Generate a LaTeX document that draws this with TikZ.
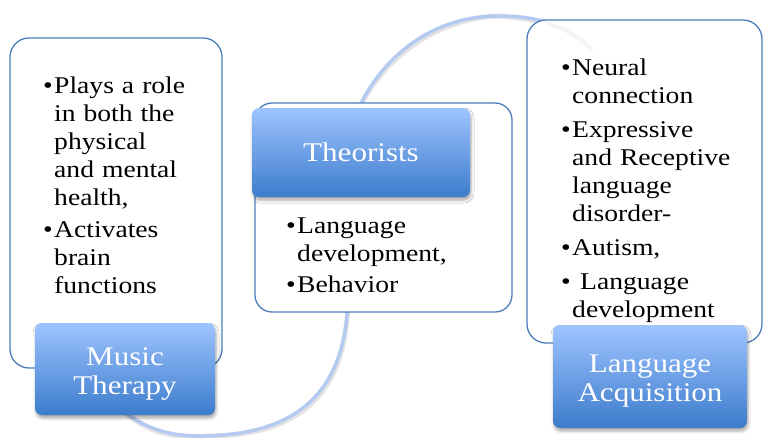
\documentclass[tikz,border=0pt]{standalone}
\usepackage{fontspec}
\setmainfont[FakeStretch=1.15]{Liberation Serif}
\usetikzlibrary{shadows.blur}
\definecolor{boxedge}{RGB}{74,126,187}
\definecolor{labtop}{RGB}{158,196,255}
\definecolor{labbot}{RGB}{60,124,204}
\definecolor{arcblue}{RGB}{180,202,240}
\newcommand{\bfirst}[1]{\hangindent=11pt\hangafter=1\noindent\makebox[11pt][l]{•}#1}
\newcommand{\bitem}[1]{\par\bfirst{#1}}
\begin{document}
\begin{tikzpicture}[x=1pt,y=-1pt,
  panel/.style={draw=boxedge, line width=1.3pt, fill=white, rounded corners=19pt, inner sep=0pt},
  tagbox/.style={rounded corners=7pt, top color=labtop, bottom color=labbot, text=white,
    align=center, inner sep=0pt, font=\fontsize{27}{29}\selectfont,
    blur shadow={shadow xshift=1pt, shadow yshift=-3pt, shadow blur radius=3pt, shadow opacity=35}},
  bodytext/.style={inner sep=0pt, text width=200pt, align=left, anchor=base west,
    font=\fontsize{24}{28}\selectfont},
  arcshade/.style={draw=black!60, line width=5pt, opacity=0.18},
  arcline/.style={draw=arcblue, line width=3.5pt}]
\useasboundingbox (0,0) rectangle (763,437);
% connecting arc
\coordinate (a0) at (112,398);
\coordinate (a1) at (205,436);
\coordinate (a2) at (348,300);
\coordinate (a3) at (358,110);
\coordinate (a4) at (500,16);
\coordinate (a5) at (560,28);
\draw[arcshade, shift={(1.5,2.5)}] (a0) .. controls (135,428) and (170,437) .. (a1)
  .. controls (300,434) and (345,390) .. (a2) -- (a3)
  .. controls (385,50) and (440,15) .. (a4) .. controls (525,16) and (545,20) .. (a5);
\draw[arcline] (a0) .. controls (135,428) and (170,437) .. (a1)
  .. controls (300,434) and (345,390) .. (a2) -- (a3)
  .. controls (385,50) and (440,15) .. (a4) .. controls (525,16) and (545,20) .. (a5);
% panels
\node[panel, minimum width=212pt, minimum height=330pt] (p1) at (116,203) {};
\node[panel, rounded corners=17pt, minimum width=257pt, minimum height=209pt] (p2) at (383.5,207.5) {};
\node[panel, minimum width=235pt, minimum height=323pt] (p3) at (644.5,181.5) {};
\coordinate (f0) at (546,23);
\coordinate (f1) at (592,50);
\draw[draw=black!50, line width=4pt, opacity=0.08] (f0) .. controls (565,28) and (580,38) .. (f1);
% texts
\node[bodytext] (t1) at (43,93) {\setlength{\parskip}{4pt}%
\bfirst{Plays a role\newline in both the\newline physical\newline and mental\newline health,}
\bitem{Activates\newline brain\newline functions}\par};
\node[bodytext] (t2) at (286,233) {\setlength{\parskip}{3pt}%
\bfirst{Language\newline development,}
\bitem{Behavior}\par};
\node[bodytext] (t3) at (561,75) {\setlength{\parskip}{6pt}%
\bfirst{Neural\newline connection}
\bitem{Expressive\newline and Receptive\newline language\newline disorder-}
\bitem{Autism,}
\bitem{\ Language\newline development}\par};
% labels
\node[tagbox, minimum width=180pt, minimum height=92pt] (l1) at (125,369) {\rule{0pt}{27pt}Music\\Therapy};
\node[tagbox, minimum width=218pt, minimum height=89pt] (l2) at (361,152.5) {Theorists};
\node[tagbox, minimum width=194pt, minimum height=103pt] (l3) at (650,376.5) {\rule{0pt}{27pt}Language\\Acquisition};
\end{tikzpicture}
\end{document}
